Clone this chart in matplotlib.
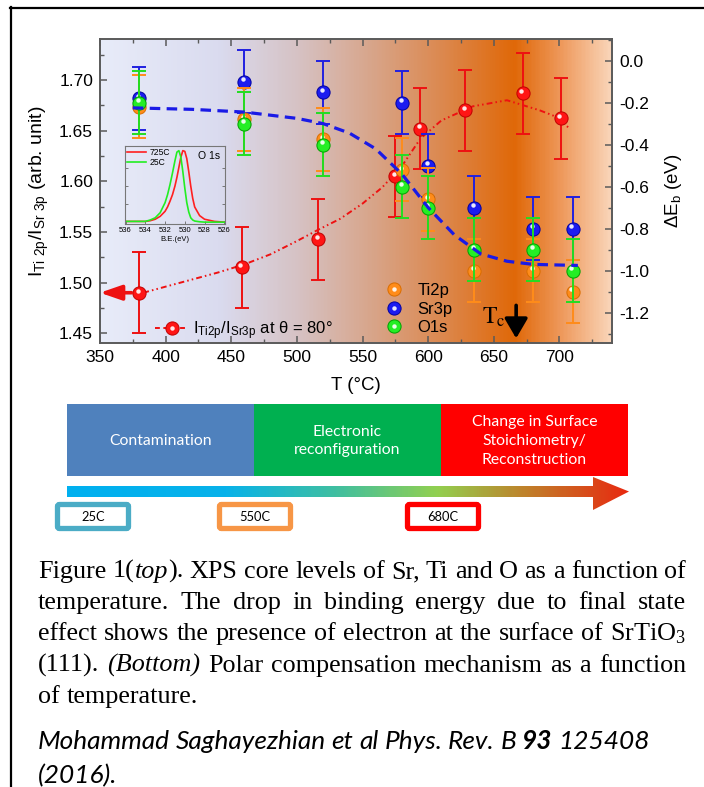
import numpy as np
import matplotlib
matplotlib.use('Agg')
import matplotlib.pyplot as plt
from matplotlib.colors import LinearSegmentedColormap
from matplotlib.patches import Rectangle, FancyBboxPatch, Polygon
from matplotlib.lines import Line2D
from matplotlib.legend_handler import HandlerTuple
from matplotlib.ticker import MultipleLocator
from matplotlib.transforms import offset_copy

plt.rcParams['font.family'] = ['Liberation Sans', 'DejaVu Sans']
plt.rcParams['mathtext.default'] = 'regular'

# I(Ti 2p)/I(Sr 3p) at theta = 80 deg (left axis)
t_ratio = [380, 458, 516, 575, 594, 628, 672, 701]
ratio = [1.490, 1.515, 1.543, 1.605, 1.652, 1.670, 1.687, 1.662]
ratio_err = [0.040, 0.040, 0.040, 0.040, 0.040, 0.040, 0.040, 0.040]

# binding energy shifts (right axis)
t_de = [380, 460, 520, 580, 600, 635, 680, 710]
de_ti2p = [-0.22, -0.28, -0.375, -0.52, -0.66, -1.00, -1.00, -1.10]
de_sr3p = [-0.18, -0.10, -0.15, -0.20, -0.50, -0.70, -0.80, -0.80]
de_o1s = [-0.20, -0.30, -0.40, -0.60, -0.70, -0.90, -0.90, -1.00]
de_err = [0.15, 0.15, 0.15, 0.15, 0.15, 0.15, 0.15, 0.15]

# guide curves
guide_t_ratio = [383, 400, 420, 440, 460, 480, 500, 516, 533, 550, 565,
                 580, 594, 610, 634, 660, 685, 695, 708]
guide_ratio = [1.490, 1.496, 1.503, 1.510, 1.518, 1.528, 1.541, 1.552,
               1.563, 1.578, 1.594, 1.615, 1.642, 1.660, 1.674, 1.680,
               1.670, 1.665, 1.652]
guide_t_de = [375, 420, 460, 500, 520, 540, 560, 580, 600, 620, 640, 660,
              680, 714]
guide_de = [-0.225, -0.232, -0.245, -0.275, -0.30, -0.345, -0.42, -0.54,
            -0.70, -0.83, -0.92, -0.955, -0.97, -0.975]

# inset: O 1s spectra (normalised)
inset_be = [536, 535, 534, 533.5, 533, 532.5, 532, 531.75, 531.5, 531.25,
            531, 530.8, 530.6, 530.4, 530.2, 530, 529.8, 529.6, 529.4,
            529.2, 529, 528.5, 528, 527, 526]
o1s_725 = [0.01, 0.01, 0.01, 0.02, 0.04, 0.08, 0.15, 0.21, 0.29, 0.38,
           0.50, 0.62, 0.76, 0.90, 0.99, 0.98, 0.88, 0.70, 0.50, 0.33,
           0.21, 0.09, 0.04, 0.01, 0.0]
o1s_25 = [0.01, 0.01, 0.01, 0.03, 0.06, 0.13, 0.27, 0.38, 0.52, 0.68,
          0.85, 0.97, 0.99, 0.90, 0.70, 0.47, 0.27, 0.14, 0.06, 0.03,
          0.015, 0.005, 0.0, 0.0, 0.0]

# bottom scheme
stages = ['Contamination', 'Electronic\nreconfiguration',
          'Change in Surface\nStoichiometry/\nReconstruction']
stage_colors = ['#4f81bd', '#00b050', '#ff0000']
temp_marks = ['25C', '550C', '680C']
temp_colors = ['#4bacc6', '#f79646', '#ff0000']

caption = [
    "Figure 1(|top|). XPS core levels of Sr, Ti and O as a function of",
    "temperature. The drop in binding energy due to final state",
    "effect shows the presence of electron at the surface of SrTiO$_3$",
    "(111). |(Bottom)| Polar compensation mechanism as a function",
    "of temperature.",
]
citation = "Mohammad Saghayezhian et al Phys. Rev. B |93| 125408"

fig = plt.figure(figsize=(7.04, 7.87), dpi=100)

# pixel overlay for the frame, scheme and caption
ov = fig.add_axes([0, 0, 1, 1])
ov.set_xlim(0, 704)
ov.set_ylim(787, 0)
ov.axis('off')

ax = fig.add_axes([0.1420, 0.5642, 0.7273, 0.3863])
XL = (350, 740)
YL = (1.4404, 1.7405)
YR = (-1.344, 0.103)

bg = LinearSegmentedColormap.from_list('bg', [
    (0.0, '#e8ecf9'), (0.23, '#dadbef'), (0.385, '#d6c2c4'),
    (0.54, '#d8a386'), (0.67, '#dc884e'), (0.81, '#e06808'),
    (0.90, '#ee985a'), (1.0, '#fad6ba')])
ax.imshow(np.linspace(0, 1, 400)[None, :], extent=[XL[0], XL[1], YL[0], YL[1]],
          aspect='auto', cmap=bg, zorder=0)
ax.set_xlim(*XL)
ax.set_ylim(*YL)

ax2 = ax.twinx()
ax2.set_ylim(*YR)


def spheres(a, x, y, face, edge, z):
    a.plot(x, y, 'o', ms=9.5, mfc=face, mec=edge, mew=0.7, zorder=z,
           linestyle='none')
    tr = offset_copy(a.transData, fig=fig, x=-1.0, y=1.6, units='points')
    a.plot(x, y, 'o', ms=3.2, mfc='white', mec='none', alpha=0.9,
           transform=tr, zorder=z + 0.1, linestyle='none')


# ratio data
ax.plot(guide_t_ratio, guide_ratio, color='#ee1111', lw=1.4,
        dashes=[3, 1.6, 0.8, 1.6, 0.8, 1.6], zorder=3)
ax.errorbar(t_ratio, ratio, yerr=ratio_err, fmt='none', ecolor='#ee1111',
            elinewidth=1.4, capsize=5, capthick=1.4, zorder=4)
spheres(ax, t_ratio, ratio, '#ff1515', '#c00000', 5)
ax.annotate('', xy=(XL[0], ratio[0]), xytext=(374, ratio[0]),
            arrowprops=dict(arrowstyle='-|>,head_length=1.3,head_width=0.45',
                            mutation_scale=10, color='#ee1111', lw=2.6,
                            shrinkA=0, shrinkB=0), zorder=6)

# binding energy data
series = [(de_sr3p, '#1c1cf0', '#0000a0', '#2020e0'),
          (de_ti2p, '#ff8c1a', '#d96d00', '#ff8c1a'),
          (de_o1s, '#25ee25', '#00a000', '#22dd22')]
z = 3
for vals, face, edge, ecol in series:
    ax2.errorbar(t_de, vals, yerr=de_err, fmt='none', ecolor=ecol,
                 elinewidth=1.4, capsize=5, capthick=1.4, zorder=z)
    spheres(ax2, t_de, vals, face, edge, z + 0.5)
    z += 1
ax2.plot(guide_t_de, guide_de, color='#1a1ae6', lw=2.3, dashes=[3.3, 2.0],
         zorder=8)

# T_c marker
ax2.text(641, -1.25, r'$\mathrm{T_c}$', math_fontfamily='stix', fontsize=17,
         ha='left', va='baseline', zorder=9)
ax2.annotate('', xy=(667, -1.322), xytext=(667, -1.165),
             arrowprops=dict(arrowstyle='-|>,head_length=0.6,head_width=0.35',
                             mutation_scale=20, color='black', lw=2.6,
                             shrinkA=0, shrinkB=0), zorder=9)

# axes styling
for a in (ax, ax2):
    for sp in a.spines.values():
        sp.set_color('#5a5a5a')
        sp.set_linewidth(1.2)
ax.xaxis.set_major_locator(MultipleLocator(50))
ax.xaxis.set_minor_locator(MultipleLocator(25))
ax.yaxis.set_major_locator(MultipleLocator(0.05))
ax.yaxis.set_minor_locator(MultipleLocator(0.025))
ax.yaxis.set_major_formatter(lambda v, p: f'{v:.2f}')
ax2.yaxis.set_major_locator(MultipleLocator(0.2))
ax2.yaxis.set_minor_locator(MultipleLocator(0.1))
ax2.yaxis.set_major_formatter(lambda v, p: f'{v:.1f}')
ax.tick_params(axis='both', which='both', direction='in', top=True,
               right=False, color='#5a5a5a', labelsize=12.5, pad=5)
ax.tick_params(which='major', length=5, width=1.1)
ax.tick_params(which='minor', length=3, width=1.0)
ax2.tick_params(axis='y', which='both', direction='in', color='#5a5a5a',
                labelsize=12.5, pad=5)
ax2.tick_params(which='major', length=5, width=1.1)
ax2.tick_params(which='minor', length=3, width=1.0)

ax.set_xlabel('T (°C)', fontsize=13.5, labelpad=9)
ax.set_ylabel(r'$I_{Ti\ 2p}/I_{Sr\ 3p}$ (arb. unit)', fontsize=14,
              labelpad=6)
ax2.set_ylabel(r'$\Delta E_b$ (eV)', fontsize=13.5, labelpad=10)

# legends
hs = []
for vals, face, edge, ecol in [series[1], series[0], series[2]]:
    big = Line2D([], [], marker='o', ms=9.5, mfc=face, mec=edge, mew=0.7,
                 linestyle='none')
    dot = Line2D([], [], marker='o', ms=3.2, mfc='white', mec='none',
                 alpha=0.9, linestyle='none')
    hs.append((big, dot))
leg = ax2.legend(hs, ['Ti2p', 'Sr3p', 'O1s'], loc='lower left',
                 bbox_to_anchor=(0.535, -0.012), frameon=False, fontsize=12,
                 handler_map={tuple: HandlerTuple(ndivide=1)},
                 handlelength=1.0, handletextpad=0.9, labelspacing=0.2,
                 borderpad=0.2)
leg.set_zorder(10)

rh = (Line2D([], [], color='#ee1111', lw=1.4, dashes=[2.5, 1.8]),
      Line2D([], [], marker='o', ms=9.5, mfc='#ff1515', mec='#c00000',
             mew=0.7, linestyle='none'),
      Line2D([], [], marker='o', ms=3.2, mfc='white', mec='none',
             alpha=0.9, linestyle='none'))
leg2 = ax.legend([rh], [r'$I_{Ti2p}/I_{Sr3p}$ at $\theta$ = 80°'],
                 loc='lower left', bbox_to_anchor=(0.085, -0.035),
                 frameon=False, fontsize=12,
                 handler_map={tuple: HandlerTuple(ndivide=1)},
                 handlelength=2.0, handletextpad=0.3, borderpad=0.2)

# inset spectra
axin = fig.add_axes([0.1770, 0.7150, 0.1430, 0.1000], zorder=5)
axin.set_facecolor('none')
axin.plot(inset_be, o1s_725, color='#ff2020', lw=1.2, label='725C')
axin.plot(inset_be, o1s_25, color='#22ee22', lw=1.2, label='25C')
axin.set_xlim(536.1, 525.9)
axin.set_ylim(-0.03, 1.06)
axin.set_xticks([536, 534, 532, 530, 528, 526])
axin.set_yticks([0.25, 0.5, 0.75])
axin.tick_params(direction='in', labelsize=5.5, length=2, width=0.6,
                 right=True, pad=2, color='#666666')
axin.tick_params(axis='y', labelleft=False)
for sp in axin.spines.values():
    sp.set_color('#777777')
    sp.set_linewidth(0.8)
axin.set_xlabel('B.E.(eV)', fontsize=5.5, labelpad=1.5)
axin.legend(loc='upper left', frameon=False, fontsize=6.2, handlelength=2.2,
            handletextpad=0.4, labelspacing=0.1, borderpad=0.2,
            borderaxespad=0.1)
axin.text(0.95, 0.93, 'O 1s', transform=axin.transAxes, ha='right', va='top',
          fontsize=7.5)

# frame
ov.plot([10, 704], [7.5, 7.5], color='black', lw=1.6)
ov.plot([11, 11], [7, 787], color='black', lw=1.6)

# scheme boxes
edges = [67, 254, 441, 628]
for i in range(3):
    ov.add_patch(Rectangle((edges[i], 404), edges[i + 1] - edges[i], 72,
                           facecolor=stage_colors[i], edgecolor='none'))
    ov.text((edges[i] + edges[i + 1]) / 2, 441, stages[i], color='white',
            ha='center', va='center', fontsize=11.3, family='Lato',
            linespacing=1.45)

# gradient arrow
arrow = Polygon([(67, 486), (593, 486), (593, 477), (629, 491.5),
                 (593, 510), (593, 497), (67, 497)], closed=True,
                facecolor='none', edgecolor='none')
ov.add_patch(arrow)
acm = LinearSegmentedColormap.from_list('ar', [
    (0.0, '#00b0f0'), (0.28, '#08b2ea'), (0.48, '#40bfa0'),
    (0.66, '#92d050'), (0.82, '#c0802a'), (1.0, '#e82a10')])
im = ov.imshow(np.linspace(0, 1, 300)[None, :], extent=[67, 629, 510, 477],
               aspect='auto', cmap=acm)
im.set_clip_path(arrow)
ov.set_xlim(0, 704)
ov.set_ylim(787, 0)

# temperature labels
label_x = [55, 217, 405]
for lx, txt, col in zip(label_x, temp_marks, temp_colors):
    ov.add_patch(FancyBboxPatch((lx + 2.5, 504.5), 71, 24,
                                boxstyle='round,pad=0,rounding_size=2',
                                facecolor='white', edgecolor=col, lw=3.8))
    ov.text(lx + 38, 517, txt, ha='center', va='center', fontsize=9.3,
            family='Lato')

# caption, justified
fig.canvas.draw()
renderer = fig.canvas.get_renderer()


def make_runs(y, line, size, **kw):
    runs = []
    widths = []
    for w in line.split(' '):
        parts = []
        off = 0.0
        for k, p in enumerate(w.split('|')):
            if not p:
                continue
            extra = dict(kw)
            if k % 2 == 1:
                extra.update(kw.get('alt', {}))
            extra.pop('alt', None)
            t = ov.text(0, y, p, fontsize=size, ha='left', va='baseline',
                        **extra)
            parts.append((t, off))
            off += t.get_window_extent(renderer).width
        runs.append(parts)
        widths.append(off)
    return runs, widths


def place_line(y, line, x0, x1, size, justify=True, gap=None, **kw):
    runs, widths = make_runs(y, line, size, **kw)
    if justify and len(runs) > 1:
        gap = (x1 - x0 - sum(widths)) / (len(runs) - 1)
    x = x0
    for parts, w in zip(runs, widths):
        for t, off in parts:
            t.set_x(x + off)
        x += w + gap


def fit_size(line, target, size0, space_em, **kw):
    runs, widths = make_runs(0, line, size0, **kw)
    for parts in runs:
        for t, off in parts:
            t.remove()
    px = size0 * 100 / 72
    natural = sum(widths) + space_em * px * (len(runs) - 1)
    return size0 * target / natural


cap_kw = dict(family='Liberation Serif', math_fontfamily='stix',
              alt=dict(style='italic'))
cap_size = fit_size(caption[0], 648, 16.5, 0.25, **cap_kw)
cap_y = [578, 609, 640, 672, 703]
for i, (y, line) in enumerate(zip(cap_y, caption)):
    last = i == len(caption) - 1
    place_line(y, line, 38, 686, cap_size, justify=not last,
               gap=0.25 * cap_size * 100 / 72, **cap_kw)

cit_kw = dict(family='Lato', style='italic', alt=dict(weight='bold'))
cit_size = fit_size(citation, 612, 16, 0.22, **cit_kw)
place_line(749, citation, 38, 0, cit_size, justify=False,
           gap=0.22 * cit_size * 100 / 72, **cit_kw)
place_line(783, "(2016).", 38, 0, cit_size, justify=False, gap=0, **cit_kw)

fig.savefig('out.png', dpi=100)
